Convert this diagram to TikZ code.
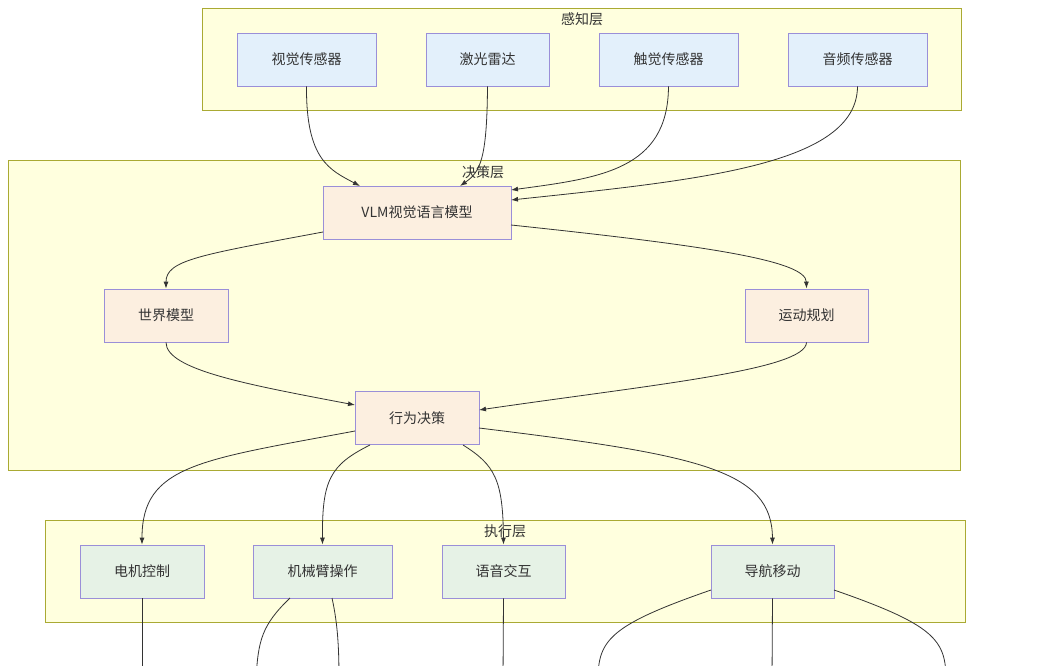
\documentclass[tikz,border=0pt]{standalone}
\usepackage{fontspec}
\setmainfont{Noto Sans CJK SC}
\usetikzlibrary{arrows.meta}
\definecolor{layf}{HTML}{FFFFDE}\definecolor{layd}{HTML}{AAAA33}
\definecolor{nb}{HTML}{E3F0FB}\definecolor{no}{HTML}{FCEFE0}\definecolor{ng}{HTML}{E6F2E6}
\definecolor{nd}{HTML}{9A8FD8}\definecolor{ed}{HTML}{333333}
\begin{document}
\begin{tikzpicture}[x=1pt,y=-1pt,
 lay/.style={draw=layd,fill=layf,line width=0.8pt},
 laylab/.style={font=\fontsize{14}{16}\selectfont,text=black!80},
 nd/.style={draw=nd,line width=0.8pt,minimum height=53pt,font=\fontsize{14}{16}\selectfont,text=black!80,inner sep=0pt},
 e/.style={draw=ed,line width=0.8pt,-{Latex[length=7pt,width=5pt]}},
 f/.style={draw=ed,line width=0.8pt}]
\useasboundingbox (0,0) rectangle (1050,666);
\clip (0,0) rectangle (1050,666);
\fill[white] (0,0) rectangle (1050,666);
\draw[lay] (202,8) rectangle (961,110);
\draw[lay] (8,160) rectangle (960,470);
\draw[lay] (45,520) rectangle (965,622);
\node[nd,fill=nb,minimum width=139pt] (v) at (306.5,59.5) {视觉传感器};
\node[nd,fill=nb,minimum width=123pt] (l) at (487.5,59.5) {激光雷达};
\node[nd,fill=nb,minimum width=139pt] (t) at (668.5,59.5) {触觉传感器};
\node[nd,fill=nb,minimum width=139pt] (a) at (857.5,59.5) {音频传感器};
\node[nd,fill=no,minimum width=188pt] (vlm) at (417,212.5) {VLM视觉语言模型};
\node[nd,fill=no,minimum width=124pt] (w) at (166,315.5) {世界模型};
\node[nd,fill=no,minimum width=123pt] (m) at (806.5,315.5) {运动规划};
\node[nd,fill=no,minimum width=124pt] (b) at (417,418) {行为决策};
\node[nd,fill=ng,minimum width=124pt] (mc) at (142,571.5) {电机控制};
\node[nd,fill=ng,minimum width=139pt] (arm) at (322.5,571.5) {机械臂操作};
\node[nd,fill=ng,minimum width=123pt] (sp) at (503.5,571.5) {语音交互};
\node[nd,fill=ng,minimum width=123pt] (nav) at (772.5,571.5) {导航移动};
\node[laylab] (L1) at (582,19) {感知层};
\node[laylab] (L2) at (483,172) {决策层};
\node[laylab] (L3) at (505,531) {执行层};
\coordinate (o1) at (142,680);\coordinate (o2) at (256,680);\coordinate (o3) at (339,680);
\coordinate (o4) at (503,680);\coordinate (o5) at (598,680);\coordinate (o6) at (772,680);\coordinate (o7) at (946,680);
\draw[e] (v.south) .. controls (306,160) and (330,170) .. (360,186);
\draw[e] (l.south) .. controls (487,160) and (480,172) .. (460,186);
\draw[e] (t.south) .. controls (668,170) and (600,178) .. (511,190);
\draw[e] (a.south) .. controls (857,165) and (700,180) .. (511,200);
\draw[e] (323,232) .. controls (200,255) and (166,260) .. (w.north);
\draw[e] (511,225) .. controls (700,245) and (806,260) .. (m.north);
\draw[e] (w.south) .. controls (166,370) and (250,385) .. (355,405);
\draw[e] (m.south) .. controls (806,370) and (650,385) .. (479,410);
\draw[e] (355,431) .. controls (200,460) and (142,465) .. (mc.north);
\draw[e] (370,445) .. controls (330,465) and (322,480) .. (arm.north);
\draw[e] (463,445) .. controls (495,465) and (503,480) .. (sp.north);
\draw[e] (479,428) .. controls (700,455) and (772,470) .. (nav.north);
\draw[f] (mc.south) -- (o1);
\draw[f] (290,598) .. controls (262,625) and (258,640) .. (o2);
\draw[f] (332,598) .. controls (338,625) and (339,650) .. (o3);
\draw[f] (sp.south) -- (o4);
\draw[f] (711,590) .. controls (610,625) and (598,640) .. (o5);
\draw[f] (nav.south) -- (o6);
\draw[f] (834,590) .. controls (935,625) and (946,640) .. (o7);
\end{tikzpicture}
\end{document}
